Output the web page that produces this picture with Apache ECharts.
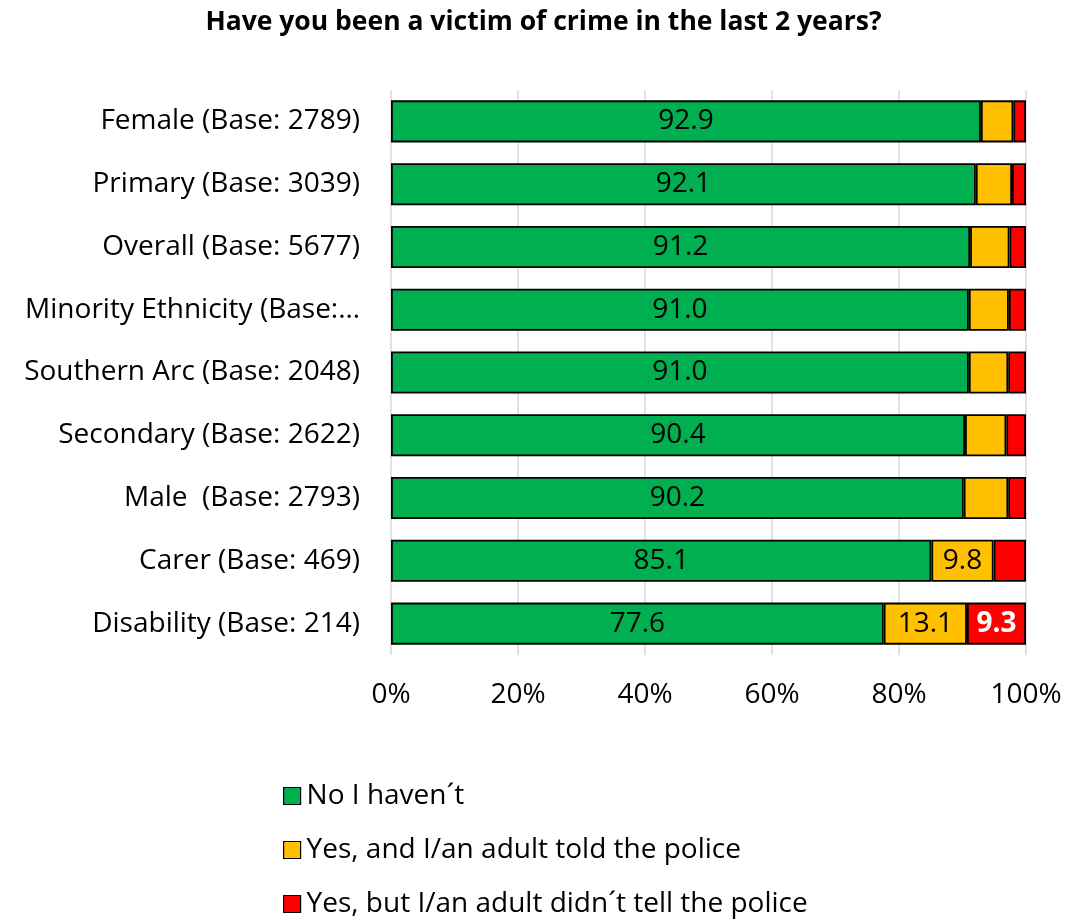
<!DOCTYPE html>
<html>
<head>
<meta charset="utf-8">
<script src="https://cdn.jsdelivr.net/npm/echarts@6/dist/echarts.min.js"></script>
<style>
  html, body { margin: 0; padding: 0; background: #fff; }
  #chart { width: 1087px; height: 920px; }
</style>
</head>
<body>
<div id="chart"></div>
<script>
// Groups, listed top to bottom
const categories = [
  'Female (Base: 2789)',
  'Primary (Base: 3039)',
  'Overall (Base: 5677)',
  'Minority Ethnicity (Base:…',
  'Southern Arc (Base: 2048)',
  'Secondary (Base: 2622)',
  'Male  (Base: 2793)',
  'Carer (Base: 469)',
  'Disability (Base: 214)'
];
const seriesNames = [
  'No I haven\u00b4t',
  'Yes, and I/an adult told the police',
  'Yes, but I/an adult didn\u00b4t tell the police'
];
const noValues      = [92.9, 92.1, 91.2, 91.0, 91.0, 90.4, 90.2, 85.1, 77.6];
const toldValues    = [5.1, 5.7, 6.2, 6.3, 6.2, 6.5, 7.0, 9.8, 13.1];
const notToldValues = [2.0, 2.2, 2.6, 2.7, 2.8, 3.1, 2.8, 5.1, 9.3];
// Which segments carry a value label
const toldLabelled    = [false, false, false, false, false, false, false, true, true];
const notToldLabelled = [false, false, false, false, false, false, false, false, true];
const xTicks = [0, 20, 40, 60, 80, 100];

const FONT = '"Open Sans", "Noto Sans", sans-serif';
const SIZE = 28;
const colors = ['#00b050', '#ffc000', '#ff0000'];

function makeData(values, labelled, labelColor, bold) {
  return values.map((v, i) => ({
    value: v,
    label: {
      show: labelled ? labelled[i] : true,
      color: labelColor,
      fontWeight: bold ? 'bold' : 'normal'
    }
  }));
}

const chart = echarts.init(document.getElementById('chart'), null, { renderer: 'canvas' });

const baseSeries = {
  type: 'bar',
  stack: 'total',
  barWidth: '67%',
  itemStyle: { borderColor: '#000', borderWidth: 1.8 },
  label: {
    show: true,
    position: 'inside',
    fontFamily: FONT,
    fontSize: SIZE,
    formatter: p => p.value.toFixed(1)
  },
  emphasis: { disabled: true }
};

chart.setOption({
  animation: false,
  title: {
    text: 'Have you been a victim of crime in the last 2 years?',
    left: 'center',
    top: 4,
    textStyle: { fontFamily: FONT, fontSize: 26.5, fontWeight: 'bold', color: '#000' }
  },
  legend: {
    orient: 'vertical',
    left: 283,
    top: 782,
    height: 140,
    padding: 0,
    itemGap: 26,
    itemWidth: 17,
    itemHeight: 17,
    icon: 'rect',
    itemStyle: { borderColor: '#000', borderWidth: 1.2 },
    textStyle: { fontFamily: FONT, fontSize: SIZE, lineHeight: 26, color: '#000', padding: [0, 0, 0, 1] },
    data: seriesNames
  },
  grid: { left: 391, right: 61, top: 90, height: 565, containLabel: false },
  xAxis: {
    type: 'value',
    min: 0,
    max: 100,
    interval: 20,
    axisLine: { show: false },
    axisTick: { show: false },
    splitLine: { show: true, lineStyle: { color: '#d9d9d9', width: 1.5 } },
    axisLabel: {
      fontFamily: FONT,
      fontSize: SIZE,
      color: '#000',
      margin: 26,
      formatter: v => (xTicks.includes(v) ? v + '%' : '')
    }
  },
  yAxis: {
    type: 'category',
    inverse: true,
    data: categories,
    axisLine: { show: false },
    axisTick: { show: false },
    axisLabel: {
      fontFamily: FONT,
      fontSize: SIZE,
      color: '#000',
      margin: 31
    }
  },
  series: [
    Object.assign({}, baseSeries, {
      name: seriesNames[0],
      itemStyle: Object.assign({}, baseSeries.itemStyle, { color: colors[0] }),
      data: makeData(noValues, null, '#000', false)
    }),
    Object.assign({}, baseSeries, {
      name: seriesNames[1],
      itemStyle: Object.assign({}, baseSeries.itemStyle, { color: colors[1] }),
      data: makeData(toldValues, toldLabelled, '#000', false)
    }),
    Object.assign({}, baseSeries, {
      name: seriesNames[2],
      itemStyle: Object.assign({}, baseSeries.itemStyle, { color: colors[2] }),
      data: makeData(notToldValues, notToldLabelled, '#fff', true)
    })
  ]
});
</script>
</body>
</html>
